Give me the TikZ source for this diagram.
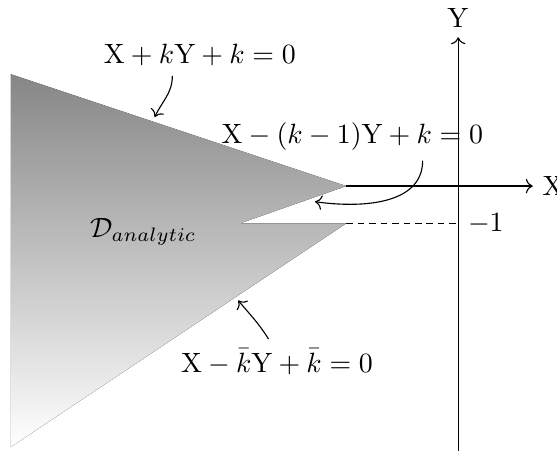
\documentclass[tikz,border=0pt]{standalone}
\definecolor{regiongray}{RGB}{134, 134, 134}
\usepackage{tikz}
\usetikzlibrary{arrows.meta, calc}
\usepackage{amsmath, amssymb}

\begin{document}
\begin{tikzpicture}[x=0.47cm, y=0.47cm]
          \useasboundingbox (-12.29, -7.08) rectangle (2.65, 4.99);
          % the region and its corners
          \coordinate (topleft) at (-12, 3);
          \coordinate (tip) at (-3, 0);
          \coordinate (notch) at (-5.85, -1);
          \coordinate (lowtip) at (-3, -1);
          \coordinate (botleft) at (-12, -7);
          \fill[top color=regiongray, bottom color=white] (topleft) -- (tip) -- (notch) -- (lowtip) -- (botleft) -- cycle;
          % axes
          \coordinate (ybot) at (0, -7.1);
          \node (ylab) at (0, 4.51) {$\mathrm{Y}$};
          \node[anchor=west] (xlab) at (2, 0) {$\mathrm{X}$};
          \node[anchor=west] (mone) at (0, -1) {$-1$};
          \draw[->] (ybot) -- (ylab.south);
          \draw[->] (tip) -- (xlab.west);
          \draw[dash pattern=on 2.4pt off 1.7pt] (lowtip) -- (mone.west);
          % labels
          \node (dom) at (-8.45, -1.23) {$\mathcal{D}_{analytic}$};
          \node (topeq) at (-6.93, 3.51) {$\mathrm{X}+k\mathrm{Y}+k=0$};
          \node (mideq) at (-2.84, 1.32) {$\mathrm{X}-(k-1)\mathrm{Y}+k=0$};
          \node (loweq) at (-4.86, -4.71) {$\mathrm{X}-\bar{k}\mathrm{Y}+\bar{k}=0$};
          \coordinate (topend) at (-8.14, 1.85);
          \coordinate (midend) at (-3.84, -0.42);
          \coordinate (lowend) at (-5.90, -3.07);
          \draw[->] ($(topeq.south west)!0.37!(topeq.south east)$) to[out=-90, in=65] (topend);
          \draw[->] ($(mideq.south west)!0.75!(mideq.south east)$) to[out=-90, in=-8] (midend);
          \draw[->] ($(loweq.north west)!0.46!(loweq.north east)$) to[out=122, in=-50] (lowend);
        \end{tikzpicture}
\end{document}
